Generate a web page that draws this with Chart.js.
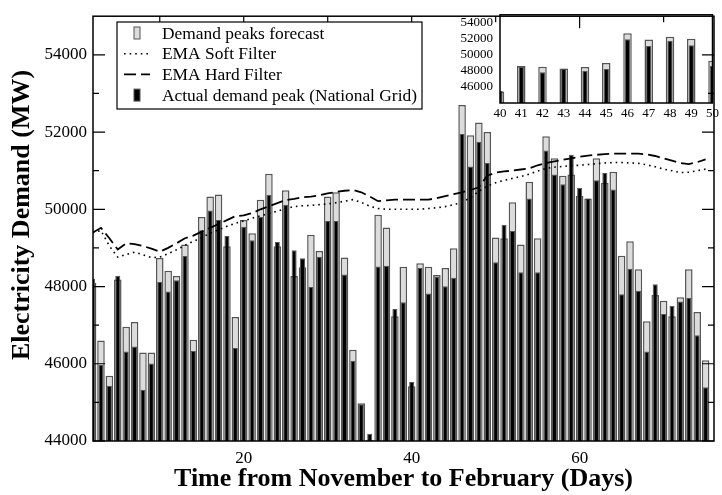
<!DOCTYPE html>
<html>
<head>
<meta charset="utf-8">
<script src="https://cdn.jsdelivr.net/npm/chart.js@4.4.1/dist/chart.umd.min.js"></script>
<style>
  body { margin: 0; background: #fff; }
  #wrap { position: relative; width: 722px; height: 495px; }
  #inset { position: absolute; left: 430px; top: 0; z-index: 0; }
  #main { position: absolute; left: 0; top: 0; z-index: 1; }
</style>
</head>
<body>
<div id="wrap">
  <canvas id="inset" width="292" height="125"></canvas>
  <canvas id="main" width="722" height="495"></canvas>
</div>
<script>
// daily demand peaks, November -> February
const days = [
  2, 3, 4, 5, 6, 7, 8, 9, 10, 11, 12, 13, 14, 15, 16, 17, 18, 19, 20, 21,
  22, 23, 24, 25, 26, 27, 28, 29, 30, 31, 32, 33, 34, 35, 36, 37, 38, 39, 40, 41,
  42, 43, 44, 45, 46, 47, 48, 49, 50, 51, 52, 53, 54, 55, 56, 57, 58, 59, 60, 61,
  62, 63, 64, 65, 66, 67, 68, 69, 70, 71, 72, 73, 74, 75
];
const forecastPeak = [
  48100, 46600, 45690, 48180, 46960, 47080, 46290, 46290, 48740, 48410,
  48270, 49090, 46620, 49800, 50330, 50380, 49040, 47210, 49720, 49380,
  50250, 50920, 49040, 50490, 48270, 48500, 49340, 48920, 50330, 50440,
  48750, 46360, 44980, 44030, 49860, 49530, 47230, 48510, 45420, 48600,
  48510, 48300, 48480, 48990, 52700, 51920, 52250, 52000, 49270, 49250,
  50180, 49090, 50710, 49250, 51890, 51320, 50870, 50900, 50350, 50280,
  51320, 50690, 50970, 48800, 49170, 48450, 47100, 47780, 47630, 47230,
  47720, 48450, 47340, 46090
];
const actualPeak = [
  48200, 45970, 45430, 48280, 46320, 46450, 45330, 46010, 48120, 47870,
  48160, 48790, 46330, 49460, 49970, 49720, 49310, 46410, 49550, 49200,
  49800, 50370, 49150, 50120, 48940, 48730, 47990, 48770, 49700, 49700,
  48310, 46080, 44950, 44190, 48520, 48540, 47420, 47590, 45530, 48480,
  47820, 48260, 48010, 48230, 51950, 51110, 51750, 51200, 48630, 49600,
  49440, 48370, 50280, 48370, 51520, 50900, 50650, 51410, 50560, 50280,
  50750, 50940, 50510, 47800, 48460, 47890, 46320, 48060, 47290, 47500,
  47610, 47700, 46740, 45390
];
const emaSoft = [
  49400, 49450, 49050, 48760, 48830, 48890, 48820, 48750, 48760, 48850,
  48950, 49070, 49170, 49270, 49380, 49470, 49560, 49640, 49700, 49770,
  49830, 49890, 49950, 50020, 50070, 50090, 50100, 50120, 50140, 50170,
  50210, 50250, 50180, 50080, 50020, 50000, 50000, 50000, 50000, 50000,
  50020, 50040, 50070, 50120, 50180, 50300, 50470, 50600, 50690, 50750,
  50800, 50850, 50910, 50990, 51060, 51090, 51110, 51130, 51140, 51160,
  51180, 51200, 51210, 51210, 51200, 51190, 51150, 51100, 51040, 51000,
  50950, 50960, 51000, 51040
];
const emaHard = [
  49390, 49520, 49250, 48960, 49120, 49100, 49050, 48980, 48900, 49000,
  49120, 49250, 49320, 49420, 49520, 49620, 49720, 49820, 49840, 49900,
  50000, 50080, 50160, 50240, 50270, 50310, 50330, 50360, 50410, 50450,
  50480, 50500, 50440, 50330, 50210, 50230, 50250, 50250, 50250, 50250,
  50250, 50290, 50340, 50390, 50440, 50500, 50570, 50870, 50950, 50980,
  51000, 51030, 51060, 51140, 51200, 51240, 51280, 51320, 51360, 51390,
  51410, 51430, 51440, 51440, 51440, 51440, 51420, 51380, 51320, 51260,
  51200, 51170, 51220, 51290
];

const xMajorTicks = [20, 40, 60];
const xMinorTicks = [10, 30, 50, 70];
const yMajorTicks = [44000, 46000, 48000, 50000, 52000, 54000];
const yMinorTicks = [45000, 47000, 49000, 51000, 53000];
const insetXTicks = [40, 41, 42, 43, 44, 45, 46, 47, 48, 49, 50];
const insetYTicks = [46000, 48000, 50000, 52000, 54000];

const xTitle = 'Time from November to February (Days)';
const yTitle = 'Electricity Demand (MW)';

const serif = '"Liberation Serif", "Times New Roman", serif';
Chart.defaults.font.family = serif;
Chart.defaults.color = '#000';

const pts = vals => days.map((d, i) => ({ x: d, y: vals[i] }));
const fixTicks = list => scale => { scale.ticks = list.map(v => ({ value: v })); };

// box round the plot plus inward ticks on all four sides
const frameTicks = {
  id: 'frameTicks',
  afterDatasetsDraw(chart, args, opts) {
    const { ctx, chartArea: a, scales: { x, y } } = chart;
    ctx.save();
    ctx.strokeStyle = '#000';
    ctx.lineWidth = 1.5;
    ctx.strokeRect(a.left, a.top, a.right - a.left, a.bottom - a.top);
    if (opts.ticks) {
      ctx.lineWidth = 1.2;
      ctx.beginPath();
      const xt = (v, len) => {
        const px = x.getPixelForValue(v);
        ctx.moveTo(px, a.bottom); ctx.lineTo(px, a.bottom - len);
        ctx.moveTo(px, a.top); ctx.lineTo(px, a.top + len);
      };
      const yt = (v, len) => {
        const py = y.getPixelForValue(v);
        ctx.moveTo(a.left, py); ctx.lineTo(a.left + len, py);
        ctx.moveTo(a.right, py); ctx.lineTo(a.right - len, py);
      };
      xMajorTicks.forEach(v => xt(v, 12));
      xMinorTicks.forEach(v => xt(v, 6));
      yMajorTicks.forEach(v => yt(v, 12));
      yMinorTicks.forEach(v => yt(v, 6));
      ctx.stroke();
    }
    ctx.restore();
  }
};

// bold axis titles: x centred under the plot, y rotated on the left
const axisTitles = {
  id: 'axisTitles',
  afterDraw(chart) {
    const { ctx, chartArea: a } = chart;
    ctx.save();
    ctx.fillStyle = '#000';
    ctx.font = 'bold 26px ' + serif;
    ctx.textAlign = 'center';
    ctx.textBaseline = 'middle';
    ctx.fillText(xTitle, (a.left + a.right) / 2, 479);
    ctx.translate(22, 215);
    ctx.rotate(-Math.PI / 2);
    ctx.fillText(yTitle, 0, 0);
    ctx.restore();
  }
};

const plotBackground = {
  id: 'plotBackground',
  beforeDatasetsDraw(chart) {
    const { ctx, chartArea: a } = chart;
    ctx.save();
    ctx.fillStyle = '#fff';
    ctx.fillRect(a.left, a.top, a.right - a.left, a.bottom - a.top);
    ctx.restore();
  }
};

// framed legend in the upper left corner of the plot
const boxLegend = {
  id: 'boxLegend',
  afterDraw(chart) {
    const { ctx } = chart;
    const ds = chart.data.datasets;
    const order = [1, 2, 3, 0];
    const left = 117, top = 22, w = 305, h = 87, rowH = 20.7;
    ctx.save();
    ctx.fillStyle = '#fff';
    ctx.fillRect(left, top, w, h);
    ctx.strokeStyle = '#000';
    ctx.lineWidth = 1.2;
    ctx.strokeRect(left, top, w, h);
    ctx.font = '17.4px ' + serif;
    ctx.textBaseline = 'middle';
    order.forEach((k, row) => {
      const d = ds[k];
      const cy = top + 11 + row * rowH;
      if (d.type === 'line') {
        ctx.strokeStyle = d.borderColor;
        ctx.lineWidth = d.borderWidth;
        ctx.setLineDash(d.borderDash);
        ctx.beginPath();
        ctx.moveTo(124, cy); ctx.lineTo(150, cy);
        ctx.stroke();
        ctx.setLineDash([]);
      } else {
        ctx.fillStyle = d.backgroundColor;
        ctx.fillRect(134, cy - 6, 6, 12);
        ctx.strokeStyle = d.borderColor;
        ctx.lineWidth = 1;
        ctx.strokeRect(134, cy - 6, 6, 12);
      }
      ctx.fillStyle = '#000';
      ctx.fillText(d.label, 162, cy + 1);
    });
    ctx.restore();
  }
};

const barStyles = {
  forecast: { backgroundColor: '#dcdcdc', borderColor: '#555', borderWidth: 1.5 },
  actual: { backgroundColor: '#000', borderColor: '#555', borderWidth: 1 }
};

new Chart(document.getElementById('main'), {
  type: 'bar',
  data: {
    datasets: [
      {
        label: 'Actual demand peak (National Grid)',
        data: pts(actualPeak),
        ...barStyles.actual,
        grouped: false,
        categoryPercentage: 1,
        barPercentage: 0.6,
        order: 1
      },
      {
        label: 'Demand peaks forecast',
        data: pts(forecastPeak),
        ...barStyles.forecast,
        grouped: false,
        categoryPercentage: 1,
        barPercentage: 0.9,
        order: 2
      },
      {
        type: 'line',
        label: 'EMA Soft Filter',
        data: pts(emaSoft),
        borderColor: '#000',
        borderWidth: 1.6,
        borderDash: [1.6, 4],
        pointRadius: 0,
        tension: 0,
        order: 0
      },
      {
        type: 'line',
        label: 'EMA Hard Filter',
        data: pts(emaHard),
        borderColor: '#000',
        borderWidth: 1.8,
        borderDash: [12, 5],
        pointRadius: 0,
        tension: 0,
        order: 0
      }
    ]
  },
  options: {
    responsive: false,
    animation: false,
    events: [],
    layout: { padding: { left: 0, top: 7, right: 8, bottom: 0 } },
    plugins: {
      legend: { display: false },
      tooltip: { enabled: false },
      frameTicks: { ticks: true }
    },
    scales: {
      x: {
        type: 'linear',
        min: 2.05,
        max: 76,
        offset: false,
        grid: { display: false, drawTicks: false },
        border: { display: false },
        afterBuildTicks: fixTicks(xMajorTicks),
        afterFit: s => { s.height = 54; },
        ticks: { font: { size: 17 }, padding: 7, maxRotation: 0 }
      },
      y: {
        min: 44000,
        max: 55000,
        grid: { display: false, drawTicks: false },
        border: { display: false },
        afterBuildTicks: fixTicks(yMajorTicks),
        afterFit: s => { s.width = 93; },
        ticks: { font: { size: 17 }, padding: 6, callback: v => String(v) }
      }
    }
  },
  plugins: [frameTicks, boxLegend, axisTitles]
});

// close-up of days 40 to 50
new Chart(document.getElementById('inset'), {
  type: 'bar',
  data: {
    datasets: [
      {
        label: 'Actual demand peak (National Grid)',
        data: pts(actualPeak),
        ...barStyles.actual,
        grouped: false,
        categoryPercentage: 1,
        barPercentage: 0.25,
        order: 1
      },
      {
        label: 'Demand peaks forecast',
        data: pts(forecastPeak),
        ...barStyles.forecast,
        grouped: false,
        categoryPercentage: 1,
        barPercentage: 0.4,
        order: 2
      }
    ]
  },
  options: {
    responsive: false,
    animation: false,
    events: [],
    layout: { padding: { left: 0, top: 6, right: 8, bottom: 0 } },
    plugins: {
      legend: { display: false },
      tooltip: { enabled: false },
      frameTicks: { ticks: false }
    },
    scales: {
      x: {
        type: 'linear',
        min: 40,
        max: 50,
        offset: false,
        grid: { display: false, drawTicks: false },
        border: { display: false },
        afterBuildTicks: fixTicks(insetXTicks),
        afterFit: s => { s.height = 22; },
        ticks: { font: { size: 13 }, padding: 3, maxRotation: 0, autoSkip: false }
      },
      y: {
        min: 44000,
        max: 55000,
        grid: { display: false, drawTicks: false },
        border: { display: false },
        afterBuildTicks: fixTicks(insetYTicks),
        afterFit: s => { s.width = 70; },
        ticks: { font: { size: 13 }, padding: 7, callback: v => String(v) }
      }
    }
  },
  plugins: [plotBackground, frameTicks]
});
</script>
</body>
</html>
